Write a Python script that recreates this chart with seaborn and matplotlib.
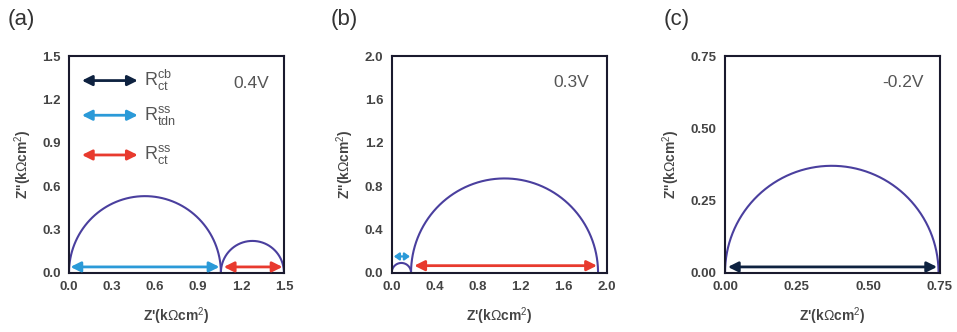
import numpy as np
import pandas as pd
import matplotlib
matplotlib.use("Agg")
import matplotlib.pyplot as plt
import seaborn as sns

# arcs per panel: (start, end, height) in kOhm cm2
arcs_a = [(0.0, 1.06, 0.53), (1.06, 1.50, 0.22)]
arcs_b = [(0.0, 0.18, 0.09), (0.18, 1.92, 0.87)]
arcs_c = [(0.0, 0.745, 0.37)]

# resistance arrows: (x0, x1, y, kind)
arrows_a = [(0.01, 1.05, 0.04, "tdn"), (1.08, 1.49, 0.04, "ct_ss")]
arrows_b = [(0.02, 0.17, 0.15, "tdn"), (0.21, 1.91, 0.065, "ct_ss")]
arrows_c = [(0.01, 0.74, 0.02, "ct_cb")]

# legend inside panel (a)
legend_kinds = ["ct_cb", "tdn", "ct_ss"]
legend_labels = [r"R$_{\rm ct}^{\rm cb}$", r"R$_{\rm tdn}^{\rm ss}$", r"R$_{\rm ct}^{\rm ss}$"]
legend_y = [1.33, 1.09, 0.815]

voltages = ["0.4V", "0.3V", "-0.2V"]
volt_pos = [(1.27, 1.31), (1.67, 1.76), (0.62, 0.66)]
panel_tags = ["(a)", "(b)", "(c)"]

xlims = [1.5, 2.0, 0.75]
ticks = [[0.0, 0.3, 0.6, 0.9, 1.2, 1.5],
         [0.0, 0.4, 0.8, 1.2, 1.6, 2.0],
         [0.0, 0.25, 0.5, 0.75]]
tick_fmt = ["{:.1f}", "{:.1f}", "{:.2f}"]

arrow_colors = {"ct_cb": "#0e2240", "tdn": "#2b9ad8", "ct_ss": "#e83a2e"}
curve_color = "#4a3f9e"

sns.set_theme(style="white")
plt.rcParams["font.family"] = ["Liberation Sans", "DejaVu Sans"]
plt.rcParams["mathtext.fontset"] = "custom"
plt.rcParams["mathtext.rm"] = "Liberation Sans"
plt.rcParams["mathtext.it"] = "Liberation Sans:italic"

fig = plt.figure(figsize=(9.57, 3.32), dpi=100)
lefts = [0.0721, 0.4093, 0.7576]
axes = [fig.add_axes([l, 0.1786, 0.2246, 0.6527]) for l in lefts]

all_arcs = [arcs_a, arcs_b, arcs_c]
all_arrows = [arrows_a, arrows_b, arrows_c]


def arc_frame(arcs):
    rows = []
    for i, (x0, x1, h) in enumerate(arcs):
        t = np.linspace(np.pi, 0, 200)
        c = (x0 + x1) / 2
        r = (x1 - x0) / 2
        rows.append(pd.DataFrame({"x": c + r * np.cos(t), "y": h * np.sin(t), "arc": i}))
    return pd.concat(rows, ignore_index=True)


def draw_arrow(ax, x0, x1, y, color, small=False):
    style = "<|-|>,head_length=0.5,head_width=0.25"
    lw = 2.0
    if small:
        style = "<|-|>,head_length=0.25,head_width=0.18"
        lw = 1.6
    ax.annotate("", xy=(x1, y), xytext=(x0, y),
                arrowprops=dict(arrowstyle=style, color=color, lw=lw,
                                shrinkA=0, shrinkB=0))


for k, ax in enumerate(axes):
    df = arc_frame(all_arcs[k])
    sns.lineplot(data=df, x="x", y="y", units="arc", estimator=None, sort=False,
                 color=curve_color, lw=1.5, ax=ax)
    for x0, x1, y, kind in all_arrows[k]:
        short = (x1 - x0) / xlims[k] < 0.15
        draw_arrow(ax, x0, x1, y, arrow_colors[kind], small=short)

    ax.set_xlim(0, xlims[k])
    ax.set_ylim(0, xlims[k])
    ax.set_xticks(ticks[k])
    ax.set_yticks(ticks[k])
    ax.set_xticklabels([tick_fmt[k].format(v) for v in ticks[k]])
    ax.set_yticklabels([tick_fmt[k].format(v) for v in ticks[k]])
    ax.tick_params(direction="in", length=4, width=1.2, colors="#222222",
                   labelsize=9.5, labelcolor="#444444", pad=6)
    for lab in ax.get_xticklabels() + ax.get_yticklabels():
        lab.set_fontweight("bold")
    for s in ax.spines.values():
        s.set_color("#1a1a2e")
        s.set_linewidth(1.5)
    ax.set_xlabel(r"Z'(k$\Omega$cm$^{2}$)", fontsize=10, fontweight="bold",
                  color="#444444", labelpad=9)
    ax.set_ylabel(r"Z''(k$\Omega$cm$^{2}$)", fontsize=10, fontweight="bold",
                  color="#444444", labelpad=6)
    ax.text(volt_pos[k][0], volt_pos[k][1], voltages[k], fontsize=12.5,
            color="#555555", ha="center", va="center")
    fig.text(lefts[k] - 0.064, 0.94, panel_tags[k], fontsize=16,
             color="#333333", ha="left", va="center")

# legend arrows in (a)
ax = axes[0]
for kind, lab, y in zip(legend_kinds, legend_labels, legend_y):
    draw_arrow(ax, 0.09, 0.48, y, arrow_colors[kind])
    ax.text(0.52, y, lab, fontsize=13, color="#555555", ha="left", va="center")

fig.savefig("out.png", dpi=100)
